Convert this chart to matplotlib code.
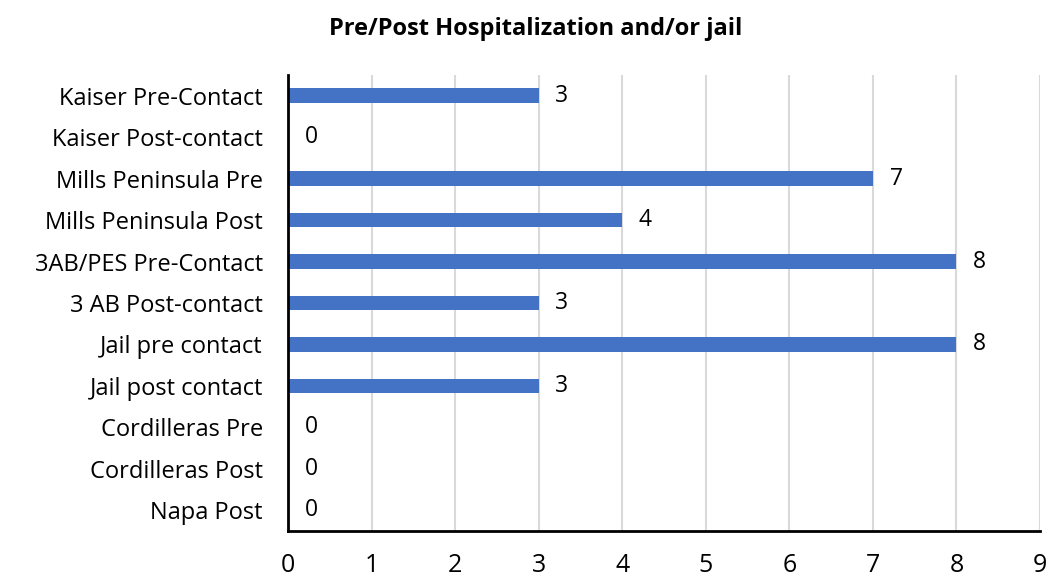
import matplotlib.pyplot as plt
import numpy as np

# data
categories = ["Kaiser Pre-Contact", "Kaiser Post-contact", "Mills Peninsula Pre",
              "Mills Peninsula Post", "3AB/PES Pre-Contact", "3 AB Post-contact",
              "Jail pre contact", "Jail post contact", "Cordilleras Pre",
              "Cordilleras Post", "Napa Post"]
values = [3, 0, 7, 4, 8, 3, 8, 3, 0, 0, 0]
xticks = list(range(0, 10))

plt.rcParams['font.family'] = ['Open Sans', 'DejaVu Sans']

fig = plt.figure(figsize=(10.52, 5.84), dpi=100)
ax = fig.add_axes([288/1052, 1 - 531/584, (1040 - 288)/1052, (531 - 75)/584])

y = np.arange(len(categories))
ax.barh(y, values, height=0.35, color='#4472C4', zorder=3)

for yi, v in zip(y, values):
    ax.text(v + 0.2, yi, str(v), va='center', ha='left', fontsize=16.5, color='black')

ax.set_ylim(len(categories) - 0.5, -0.5)
ax.set_xlim(0, 9)
ax.set_yticks(y)
ax.set_yticklabels(categories, fontsize=17)
ax.set_xticks(xticks)
ax.set_xticklabels([str(t) for t in xticks], fontsize=18)

ax.xaxis.grid(True, color='#D9D9D9', linewidth=1.5, zorder=0)
ax.yaxis.grid(False)
ax.tick_params(axis='x', length=0, pad=16)
ax.tick_params(axis='y', length=0, pad=18)

for s in ['top', 'right']:
    ax.spines[s].set_visible(False)
ax.spines['left'].set_linewidth(2)
ax.spines['bottom'].set_linewidth(2)
ax.spines['left'].set_zorder(4)

fig.text(536/1052, 1 - 29/584, "Pre/Post Hospitalization and/or jail",
         ha='center', va='center', fontsize=17, fontweight='bold')

fig.savefig('out.png', dpi=100)
